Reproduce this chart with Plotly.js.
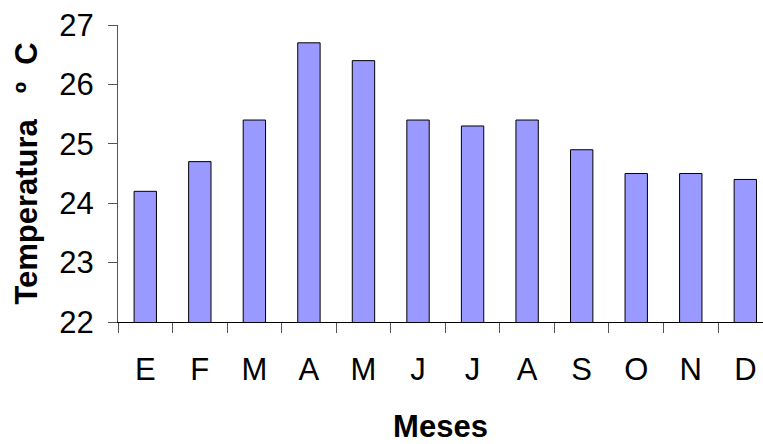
<!DOCTYPE html>
<html>
<head>
<meta charset="utf-8">
<script src="https://cdn.plot.ly/plotly-3.0.1.min.js"></script>
<style>html,body{margin:0;padding:0;background:#fff;}#chart{width:763px;height:444px;}</style>
</head>
<body>
<div id="chart"></div>
<script>
const months = ["E","F","M","A","M","J","J","A","S","O","N","D"];
const temperatures = [24.2, 24.7, 25.4, 26.7, 26.4, 25.4, 25.3, 25.4, 24.9, 24.5, 24.5, 24.4];
const yTicks = [22, 23, 24, 25, 26, 27];

const idx = months.map((m, i) => i);
const boundaries = months.map((m, i) => i - 0.5).concat([months.length - 0.5]);

const trace = {
  type: 'bar',
  x: idx,
  y: temperatures,
  marker: {color: '#9999FF', line: {color: '#000000', width: 1}},
  hoverinfo: 'skip'
};

const font = "Liberation Sans, Arial, sans-serif";
const layout = {
  width: 763, height: 444,
  margin: {l: 118, r: 0, t: 25, b: 122, pad: 0},
  paper_bgcolor: '#ffffff', plot_bgcolor: '#ffffff',
  showlegend: false,
  bargap: 0.59,
  font: {family: font, color: '#000'},
  xaxis: {
    range: [-0.5, 11.324],
    tickvals: idx, ticktext: months,
    ticks: '', showgrid: false, zeroline: false,
    showline: true, linecolor: '#000', linewidth: 1,
    tickfont: {size: 31, family: font, color: '#000'},
    ticklabelstandoff: 20,
    minor: {tickvals: boundaries, ticks: 'outside', ticklen: 10, tickcolor: '#555', tickwidth: 1, showgrid: false},
    title: {text: '<b>Meses</b>', font: {size: 31, family: font, color: '#000'}, standoff: 37}
  },
  yaxis: {
    range: [22, 27],
    tickvals: yTicks,
    ticks: 'outside', ticklen: 9, tickcolor: '#555', tickwidth: 1,
    showgrid: false, zeroline: false,
    showline: true, linecolor: '#555', linewidth: 1,
    tickfont: {size: 31, family: font, color: '#000'},
    ticklabelstandoff: 8,
    title: {text: '<b>Temperatura\u00a0\u00a0\u00a0º\u00a0\u00a0C</b>', font: {size: 31, family: font, color: '#000'}, standoff: 12}
  }
};

Plotly.newPlot('chart', [trace], layout, {staticPlot: true, displayModeBar: false});
</script>
</body>
</html>
